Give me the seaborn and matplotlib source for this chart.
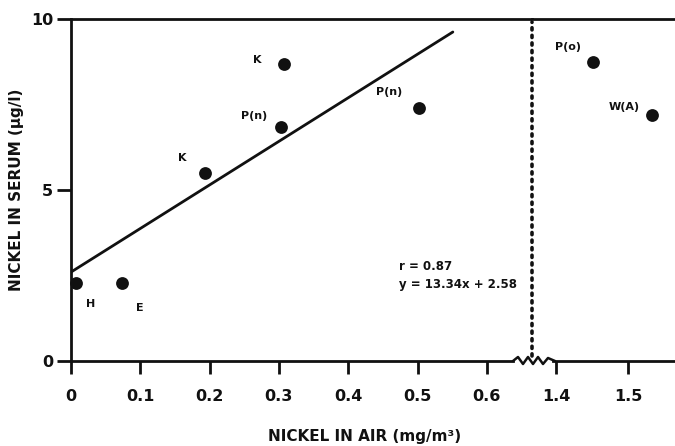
import matplotlib
matplotlib.use("Agg")
import matplotlib.pyplot as plt
import seaborn as sns
import pandas as pd
from matplotlib.lines import Line2D

# ---- data ----
labels_left = ["H", "E", "K", "P(n)", "K", "P(n)"]
air_left = [0.007, 0.074, 0.193, 0.303, 0.307, 0.502]
serum_left = [2.29, 2.29, 5.50, 6.85, 8.68, 7.41]

labels_right = ["P(o)", "W(A)"]
air_right = [1.451, 1.533]
serum_right = [8.74, 7.18]

fit_x = [0.0, 0.551]
fit_y = [2.60, 9.62]

x_ticks_left = [0, 0.1, 0.2, 0.3, 0.4, 0.5, 0.6]
x_ticklabels_left = ["0", "0.1", "0.2", "0.3", "0.4", "0.5", "0.6"]
x_ticks_right = [1.4, 1.5]
x_ticklabels_right = ["1.4", "1.5"]
y_ticks = [0, 5, 10]

stats_text = "r = 0.87\ny = 13.34x + 2.58"

# label offsets in points (dx, dy) relative to each point
offs_left = [(7, -15), (10, -18), (-19, 11), (-29, 8), (-22, 3), (-31, 11)]
offs_right = [(-27, 11), (-31, 6)]

sns.set_style("ticks")
plt.rcParams["font.family"] = ["DejaVu Sans"]
plt.rcParams["font.weight"] = "bold"

INK = "#111111"
W, H = 675, 446
fig = plt.figure(figsize=(W / 100, H / 100), dpi=100)
left_px, brk_px, right_px = 71, 532, 675
top_px, bot_px = 19, 361
fb = 1 - bot_px / H
fh = (bot_px - top_px) / H
ax1 = fig.add_axes([left_px / W, fb, (brk_px - left_px) / W, fh])
ax2 = fig.add_axes([brk_px / W, fb, (right_px - brk_px) / W, fh])

df_l = pd.DataFrame({"air": air_left, "serum": serum_left})
df_r = pd.DataFrame({"air": air_right, "serum": serum_right})
df_fit = pd.DataFrame({"x": fit_x, "y": fit_y})

sns.scatterplot(data=df_l, x="air", y="serum", ax=ax1, s=85, color=INK,
                edgecolor=INK, linewidth=0, clip_on=False, zorder=5)
sns.lineplot(data=df_fit, x="x", y="y", ax=ax1, color=INK, lw=2.0)
sns.scatterplot(data=df_r, x="air", y="serum", ax=ax2, s=85, color=INK,
                edgecolor=INK, linewidth=0, clip_on=False, zorder=5)

ax1.set_xlim(0, (brk_px - left_px) / 693.0)
x2l = 1.4 - (556 - brk_px) / 720.0
ax2.set_xlim(x2l, x2l + (right_px - brk_px) / 720.0)
for ax in (ax1, ax2):
    ax.set_ylim(0, 10)
    ax.set_xlabel("")
    ax.set_ylabel("")
    for s in ax.spines.values():
        s.set_linewidth(2.0)
        s.set_color(INK)
    ax.spines["right"].set_visible(False)
    ax.tick_params(axis="x", length=9, width=2, direction="out", pad=11,
                   labelsize=11.5, color=INK, labelcolor=INK)
    ax.tick_params(axis="y", length=10, width=2, direction="out", pad=3,
                   labelsize=11.5, color=INK, labelcolor=INK)

ax1.set_xticks(x_ticks_left)
ax1.set_xticklabels(x_ticklabels_left, fontweight="bold")
ax1.set_yticks(y_ticks)
ax1.set_yticklabels([str(v) for v in y_ticks], fontweight="bold")
ax1.spines["bottom"].set_bounds(0, (513 - left_px) / 693.0)

ax2.set_xticks(x_ticks_right)
ax2.set_xticklabels(x_ticklabels_right, fontweight="bold")
ax2.spines["left"].set_visible(False)
ax2.tick_params(axis="y", left=False, labelleft=False)
ax2.spines["bottom"].set_bounds(1.4 - (556 - 553) / 720.0, ax2.get_xlim()[1])

for lab, x, y, (dx, dy) in zip(labels_left, air_left, serum_left, offs_left):
    ax1.annotate(lab, (x, y), xytext=(dx, dy), textcoords="offset points",
                 fontsize=8, fontweight="bold", color=INK,
                 ha="left", va="center")
for lab, x, y, (dx, dy) in zip(labels_right, air_right, serum_right, offs_right):
    ax2.annotate(lab, (x, y), xytext=(dx, dy), textcoords="offset points",
                 fontsize=8, fontweight="bold", color=INK,
                 ha="left", va="center")

ax1.text(0.473, 2.5, stats_text, fontsize=8.5, fontweight="bold",
         color=INK, ha="left", va="center", linespacing=1.45)

# dotted break line
ax2.axvline(x2l, ymin=0.015, ymax=0.99, color=INK, lw=2.6,
            ls=(0, (0.6, 1.5)), dash_capstyle="round", clip_on=False)

# zigzag break on the x axis (figure pixel coords, upward = positive)
zx = [513, 518, 523, 528, 533, 538, 543, 548, 555]
zy = [0, 4, -3, 4, -3, 4, -3, 3, 0]
fig.add_artist(Line2D([v / W for v in zx],
                      [fb + d / H for d in zy],
                      transform=fig.transFigure, color=INK, lw=1.8))

fig.text(365 / W, 1 - 436 / H,
         "NICKEL IN AIR (mg/m³)", fontsize=11, fontweight="bold",
         ha="center", va="center", color=INK)
fig.text(17 / W, 1 - 190 / H, "NICKEL IN SERUM (µg/l)", fontsize=11,
         fontweight="bold", rotation=90, ha="center", va="center",
         color=INK)

fig.savefig("out.png", dpi=100)
